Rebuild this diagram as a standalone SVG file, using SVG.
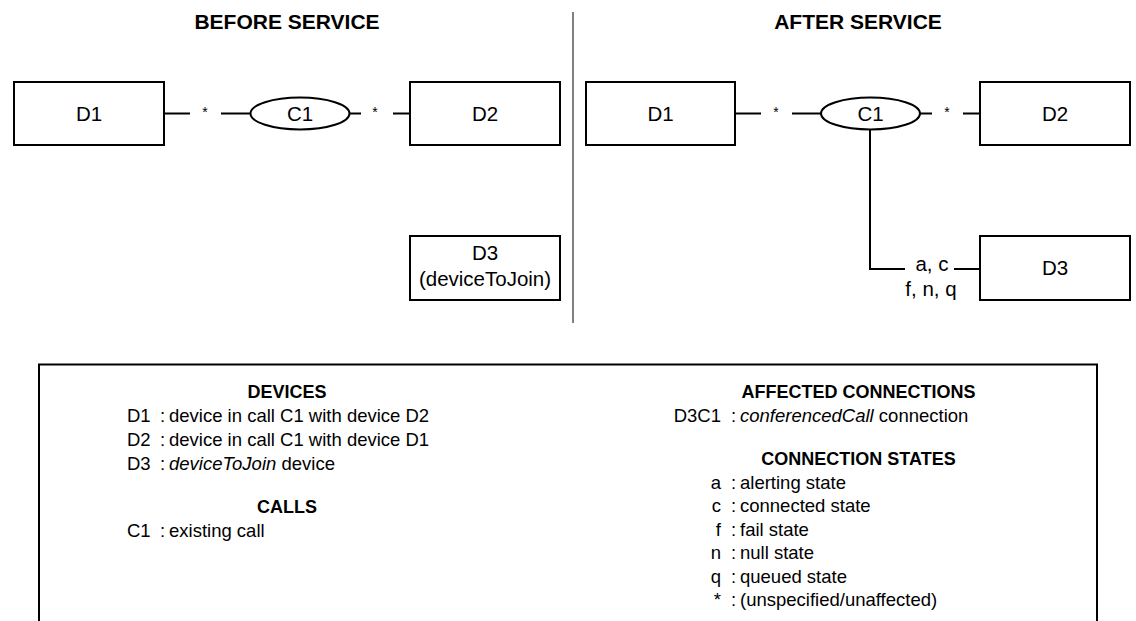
<svg xmlns="http://www.w3.org/2000/svg" width="1136" height="621" viewBox="0 0 1136 621">
<style>
text{font-family:"Liberation Sans",Arial,Helvetica,sans-serif;fill:#000}
.t{font-size:21px;font-weight:bold;text-anchor:middle}
.lbl{font-size:20.5px;text-anchor:middle}
.star{font-size:14px;text-anchor:middle}
.box{fill:#fff;stroke:#000;stroke-width:2}
.ln{stroke:#000;stroke-width:2;fill:none}
.h{font-size:18px;font-weight:bold;text-anchor:middle}
.lg{font-size:18.5px}
.e{text-anchor:end}
.i{font-style:italic}
</style>
<rect x="0" y="0" width="1136" height="621" fill="#fff"/>
<g id="titles">
<text class="t" x="287" y="28.5">BEFORE SERVICE</text>
<text class="t" x="858" y="28.5">AFTER SERVICE</text>
</g>
<line id="divider" x1="573" y1="12" x2="573" y2="323" stroke="#808080" stroke-width="2"/>
<g id="connectors">
<line class="ln" x1="164" y1="113.5" x2="190" y2="113.5"/>
<line class="ln" x1="221" y1="113.5" x2="250.5" y2="113.5"/>
<line class="ln" x1="349.5" y1="113.5" x2="361" y2="113.5"/>
<line class="ln" x1="393" y1="113.5" x2="410" y2="113.5"/>
<line class="ln" x1="735" y1="113.5" x2="761" y2="113.5"/>
<line class="ln" x1="792" y1="113.5" x2="821" y2="113.5"/>
<line class="ln" x1="920" y1="113.5" x2="932" y2="113.5"/>
<line class="ln" x1="963" y1="113.5" x2="980" y2="113.5"/>
<polyline class="ln" points="870,129.5 870,269 905,269"/>
<line class="ln" x1="954" y1="269" x2="980" y2="269"/>
<text class="star" x="205" y="117">*</text>
<text class="star" x="375" y="117">*</text>
<text class="star" x="776" y="117">*</text>
<text class="star" x="947" y="117">*</text>
<text class="lbl" x="932" y="270.5">a, c</text>
<text class="lbl" x="931" y="295.5">f, n, q</text>
</g>
<g id="before-D1"><rect class="box" x="14" y="82" width="150" height="63"/><text class="lbl" x="89" y="120.5">D1</text></g>
<g id="before-C1"><ellipse class="box" cx="300" cy="113.5" rx="49.5" ry="16"/><text class="lbl" x="300" y="120.5">C1</text></g>
<g id="before-D2"><rect class="box" x="410" y="82" width="150" height="63"/><text class="lbl" x="485" y="120.5">D2</text></g>
<g id="before-D3"><rect class="box" x="410" y="236" width="150" height="64"/><text class="lbl" x="485" y="259.5">D3</text><text class="lbl" x="485" y="285.5">(deviceToJoin)</text></g>
<g id="after-D1"><rect class="box" x="586" y="82" width="149" height="63"/><text class="lbl" x="660.5" y="120.5">D1</text></g>
<g id="after-C1"><ellipse class="box" cx="870.5" cy="113.5" rx="49.5" ry="16"/><text class="lbl" x="870.5" y="120.5">C1</text></g>
<g id="after-D2"><rect class="box" x="980" y="82" width="150" height="63"/><text class="lbl" x="1055" y="120.5">D2</text></g>
<g id="after-D3"><rect class="box" x="980" y="236" width="150" height="64"/><text class="lbl" x="1055" y="275">D3</text></g>
<g id="legend">
<polyline class="ln" points="39,630 39,364.5 1097,364.5 1097,630"/>
<text class="h" x="287" y="398">DEVICES</text>
<text class="lg" y="421.5"><tspan x="127">D1</tspan><tspan x="160">:</tspan><tspan x="169">device in call C1 with device D2</tspan></text>
<text class="lg" y="445.5"><tspan x="127">D2</tspan><tspan x="160">:</tspan><tspan x="169">device in call C1 with device D1</tspan></text>
<text class="lg" y="469.5"><tspan x="127">D3</tspan><tspan x="160">:</tspan><tspan x="169" class="i">deviceToJoin</tspan> device</text>
<text class="h" x="287" y="512.5">CALLS</text>
<text class="lg" y="536.5"><tspan x="127">C1</tspan><tspan x="160">:</tspan><tspan x="169">existing call</tspan></text>
<text class="h" x="858.5" y="398">AFFECTED CONNECTIONS</text>
<text class="lg e" x="721" y="421.5">D3C1</text>
<text class="lg" y="421.5"><tspan x="731">:</tspan><tspan x="740" class="i">conferencedCall</tspan> connection</text>
<text class="h" x="858.5" y="465">CONNECTION STATES</text>
<text class="lg e" x="721" y="488.5">a</text><text class="lg" x="731" y="488.5">:</text><text class="lg" x="740" y="488.5">alerting state</text>
<text class="lg e" x="721" y="512">c</text><text class="lg" x="731" y="512">:</text><text class="lg" x="740" y="512">connected state</text>
<text class="lg e" x="721" y="535.5">f</text><text class="lg" x="731" y="535.5">:</text><text class="lg" x="740" y="535.5">fail state</text>
<text class="lg e" x="721" y="559">n</text><text class="lg" x="731" y="559">:</text><text class="lg" x="740" y="559">null state</text>
<text class="lg e" x="721" y="582.5">q</text><text class="lg" x="731" y="582.5">:</text><text class="lg" x="740" y="582.5">queued state</text>
<text class="lg e" x="721" y="606">*</text><text class="lg" x="731" y="606">:</text><text class="lg" x="740" y="606">(unspecified/unaffected)</text>
</g>
</svg>
